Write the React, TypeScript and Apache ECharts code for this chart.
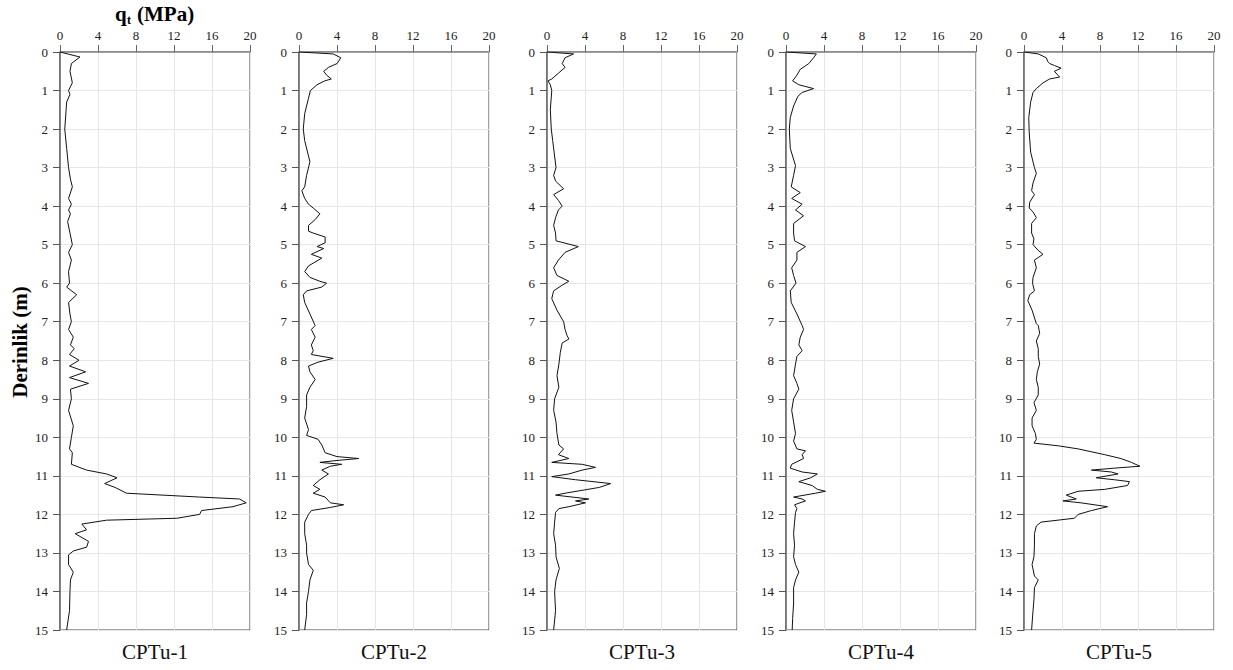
import React, { useEffect, useRef } from "react";
import * as echarts from "echarts";

// Each entry: [depth (m), qt (MPa)]
const cptu1: [number, number][] = [
  [0, 0], [0.13, 2.1], [0.3, 1.2], [0.5, 1.05], [0.8, 1.3], [1.0, 0.9], [1.1, 1.05], [1.3, 0.7], [2.0, 0.5], [2.5, 0.7],
  [3.0, 0.9], [3.3, 1.1], [3.5, 1.3], [3.8, 0.9], [3.95, 1.2], [4.1, 0.9], [4.2, 1.1], [4.4, 0.8], [4.7, 1.05], [5.0, 1.3],
  [5.2, 0.9], [5.4, 1.2], [5.7, 0.9], [6.0, 1.0], [6.1, 0.7], [6.3, 1.75], [6.5, 0.9], [6.8, 1.05], [7.0, 1.2], [7.2, 0.9],
  [7.4, 1.4], [7.6, 1.1], [7.7, 1.5], [7.85, 1.0], [8.0, 2.0], [8.15, 1.0], [8.3, 2.7], [8.45, 1.0], [8.6, 3.0], [8.75, 1.1],
  [9.0, 1.2], [9.3, 0.9], [9.7, 1.4], [10.0, 1.2], [10.3, 1.0], [10.4, 1.3], [10.7, 1.2], [10.85, 2.8], [10.95, 4.9], [11.05, 6.0],
  [11.2, 4.7], [11.3, 5.8], [11.45, 7.0], [11.55, 14.7], [11.6, 18.9], [11.7, 19.6], [11.8, 18.2], [11.9, 14.9], [12.0, 14.7], [12.1, 12.3],
  [12.15, 4.9], [12.25, 2.3], [12.4, 2.8], [12.5, 1.6], [12.7, 3.0], [12.85, 2.8], [12.95, 1.4], [13.05, 0.9], [13.3, 0.9], [13.5, 1.4],
  [13.7, 1.1], [14.0, 1.05], [14.5, 1.0], [15, 0.7],
];

const cptu2: [number, number][] = [
  [0, 0], [0.05, 3.6], [0.15, 4.4], [0.3, 4.0], [0.4, 3.1], [0.5, 2.6], [0.6, 2.9], [0.7, 3.4], [0.75, 2.7], [0.85, 1.9],
  [1.0, 1.2], [1.2, 1.0], [1.6, 0.6], [2.0, 0.45], [2.3, 0.6], [2.7, 1.0], [2.85, 1.15], [3.2, 0.8], [3.5, 0.6], [3.6, 0.3],
  [3.8, 0.6], [3.95, 1.0], [4.05, 1.5], [4.2, 2.2], [4.35, 1.7], [4.5, 1.0], [4.65, 1.0], [4.7, 1.5], [4.8, 2.75], [4.95, 2.75],
  [5.05, 1.9], [5.1, 2.6], [5.25, 1.3], [5.35, 2.4], [5.55, 1.0], [5.7, 0.6], [5.85, 1.15], [5.95, 2.2], [6.0, 2.9], [6.1, 2.4],
  [6.2, 0.8], [6.3, 0.45], [6.5, 0.6], [6.8, 1.15], [7.1, 1.7], [7.2, 1.3], [7.4, 1.7], [7.6, 1.3], [7.75, 1.5], [7.85, 1.3],
  [7.95, 3.6], [8.05, 2.0], [8.15, 1.0], [8.3, 1.15], [8.5, 1.7], [8.7, 1.15], [8.9, 0.8], [9.2, 0.8], [9.5, 0.6], [9.8, 1.0],
  [9.95, 0.8], [10.05, 2.0], [10.2, 2.4], [10.4, 2.75], [10.5, 4.0], [10.55, 6.3], [10.6, 4.0], [10.65, 2.2], [10.7, 4.5], [10.75, 3.3],
  [10.85, 2.4], [10.95, 3.1], [11.1, 2.2], [11.25, 1.5], [11.35, 2.2], [11.45, 1.5], [11.55, 2.75], [11.7, 3.3], [11.75, 4.7], [11.82, 3.3],
  [11.9, 1.3], [12.0, 1.0], [12.2, 0.6], [12.5, 0.6], [12.8, 0.8], [13.0, 0.8], [13.3, 1.0], [13.45, 1.5], [13.7, 1.15], [14.0, 1.0],
  [14.3, 0.8], [14.6, 0.8], [15, 0.6],
];

const cptu3: [number, number][] = [
  [0, 0], [0.05, 2.8], [0.15, 1.9], [0.3, 1.6], [0.4, 1.9], [0.55, 1.2], [0.7, 0.5], [0.75, 0.1], [0.85, 0.35], [1.0, 0.5],
  [1.5, 0.35], [2.0, 0.45], [2.3, 0.6], [2.7, 0.8], [3.0, 0.95], [3.2, 0.7], [3.35, 0.9], [3.55, 1.75], [3.7, 0.7], [3.85, 1.2],
  [4.0, 1.6], [4.1, 1.2], [4.3, 0.9], [4.5, 0.7], [4.7, 0.9], [4.9, 0.95], [5.05, 3.3], [5.2, 1.9], [5.4, 1.2], [5.6, 0.7],
  [5.8, 1.05], [5.95, 2.3], [6.05, 1.6], [6.2, 0.7], [6.4, 0.5], [6.7, 1.05], [7.0, 1.75], [7.2, 1.9], [7.35, 2.1], [7.45, 2.3],
  [7.55, 1.6], [7.8, 1.4], [8.1, 1.25], [8.4, 1.05], [8.7, 1.25], [9.0, 0.8], [9.3, 0.7], [9.6, 0.95], [9.9, 1.05], [10.2, 1.25],
  [10.3, 1.75], [10.45, 1.2], [10.55, 2.3], [10.65, 0.5], [10.7, 3.7], [10.78, 5.1], [10.85, 3.7], [10.95, 2.3], [11.02, 0.5], [11.1, 3.0],
  [11.2, 6.7], [11.3, 5.5], [11.45, 1.9], [11.5, 0.9], [11.6, 4.4], [11.65, 3.0], [11.7, 4.05], [11.8, 2.3], [11.85, 1.25], [11.95, 0.9],
  [12.2, 0.8], [12.5, 0.7], [12.8, 0.9], [13.1, 0.95], [13.4, 1.3], [13.7, 0.95], [14.0, 0.8], [14.5, 0.9], [15, 0.7],
];

const cptu4: [number, number][] = [
  [0, 0], [0.05, 3.2], [0.15, 2.9], [0.3, 2.4], [0.45, 1.5], [0.6, 1.15], [0.75, 0.7], [0.85, 1.35], [0.95, 2.9], [1.05, 1.7],
  [1.15, 1.25], [1.4, 0.8], [1.7, 0.45], [2.0, 0.35], [2.5, 0.45], [2.95, 1.0], [3.2, 0.8], [3.5, 0.55], [3.65, 1.5], [3.8, 0.6],
  [3.95, 1.7], [4.1, 1.0], [4.25, 1.85], [4.45, 0.8], [4.7, 0.8], [4.9, 0.9], [5.05, 2.05], [5.2, 1.15], [5.4, 1.15], [5.6, 0.6],
  [5.8, 0.8], [6.0, 1.05], [6.2, 0.45], [6.5, 0.55], [6.8, 1.15], [7.1, 1.7], [7.2, 1.85], [7.4, 1.5], [7.6, 1.35], [7.75, 1.7],
  [7.9, 1.15], [8.1, 1.0], [8.4, 0.8], [8.6, 1.15], [8.75, 1.35], [9.0, 0.8], [9.3, 0.6], [9.6, 0.8], [9.9, 1.0], [10.1, 0.8],
  [10.3, 1.15], [10.35, 2.05], [10.45, 1.7], [10.55, 1.85], [10.7, 0.6], [10.8, 0.45], [10.9, 1.7], [10.95, 3.3], [11.05, 2.6], [11.15, 1.35],
  [11.25, 2.75], [11.35, 3.3], [11.4, 4.15], [11.45, 3.1], [11.55, 0.8], [11.6, 1.7], [11.65, 2.05], [11.75, 0.9], [11.85, 1.15], [11.95, 1.0],
  [12.2, 0.9], [12.5, 0.8], [12.8, 0.9], [13.1, 0.8], [13.3, 1.0], [13.5, 1.35], [13.7, 1.0], [13.9, 0.8], [14.3, 0.8], [14.7, 0.7],
  [15, 0.65],
];

const cptu5: [number, number][] = [
  [0, 0], [0.05, 1.5], [0.15, 2.35], [0.25, 2.5], [0.3, 2.7], [0.35, 3.2], [0.42, 3.9], [0.5, 3.2], [0.65, 3.75], [0.7, 2.7],
  [0.8, 2.0], [0.95, 1.3], [1.05, 0.95], [1.3, 0.7], [1.7, 0.5], [2.1, 0.55], [2.6, 0.7], [3.0, 1.1], [3.15, 1.3], [3.4, 0.95],
  [3.6, 0.8], [3.7, 1.1], [3.9, 0.6], [4.05, 0.55], [4.15, 0.95], [4.3, 1.3], [4.45, 0.8], [4.7, 0.8], [4.85, 1.05], [5.0, 0.95],
  [5.15, 1.5], [5.25, 2.0], [5.4, 1.1], [5.6, 1.3], [5.85, 0.95], [6.0, 0.9], [6.2, 1.1], [6.3, 0.6], [6.45, 0.4], [6.7, 0.85],
  [7.05, 1.3], [7.1, 1.5], [7.3, 1.65], [7.5, 1.3], [7.7, 1.5], [7.9, 1.5], [8.1, 1.65], [8.3, 1.4], [8.5, 1.3], [8.7, 1.5],
  [8.9, 1.5], [9.1, 1.05], [9.3, 1.3], [9.5, 0.85], [9.7, 0.85], [9.9, 1.2], [10.05, 1.3], [10.15, 1.05], [10.22, 3.6], [10.3, 5.7],
  [10.45, 8.5], [10.55, 10.2], [10.65, 11.3], [10.75, 12.2], [10.8, 9.5], [10.85, 7.1], [10.9, 9.2], [10.95, 9.9], [11.05, 7.6], [11.1, 9.5],
  [11.15, 11.1], [11.25, 10.9], [11.35, 8.5], [11.4, 5.7], [11.5, 4.45], [11.6, 5.5], [11.65, 4.1], [11.7, 6.0], [11.8, 8.8], [11.9, 7.1],
  [12.0, 5.7], [12.1, 5.3], [12.2, 1.8], [12.3, 1.3], [12.5, 1.1], [12.8, 1.1], [13.1, 1.05], [13.3, 0.85], [13.6, 1.1], [13.7, 1.5],
  [13.9, 1.1], [14.2, 1.05], [14.5, 0.95], [15, 0.8],
];

const panelNames = ["CPTu-1", "CPTu-2", "CPTu-3", "CPTu-4", "CPTu-5"];
const panelData = [cptu1, cptu2, cptu3, cptu4, cptu5];
const qtRange = [0, 20];
const qtStep = 4;
const depthRange = [0, 15];
const depthStep = 1;
const yAxisTitle = "Derinlik (m)";

const FONT = "'Liberation Serif', 'Times New Roman', serif";
const gridLefts = [60, 299, 547, 786, 1024];
const GRID_TOP = 52;
const GRID_W = 190;
const GRID_H = 578;

export default function App() {
  const ref = useRef<HTMLDivElement>(null);

  useEffect(() => {
    if (!ref.current) return;
    const chart = echarts.init(ref.current, undefined, { renderer: "svg" });

    const grids = gridLefts.map((left) => ({
      left,
      top: GRID_TOP,
      width: GRID_W,
      height: GRID_H,
      show: true,
      borderColor: "#444",
      borderWidth: 1,
      backgroundColor: "transparent",
    }));

    const xAxes = gridLefts.map((_, i) => ({
      gridIndex: i,
      type: "value",
      position: "top",
      min: qtRange[0],
      max: qtRange[1],
      interval: qtStep,
      axisLine: { show: true, onZero: false, lineStyle: { color: "#888", width: 1.5 } },
      axisTick: { show: true, length: 7, lineStyle: { color: "#666" } },
      axisLabel: { margin: 10, fontFamily: FONT, fontSize: 13, color: "#222" },
      splitLine: { show: true, lineStyle: { color: "#e6e6e6", width: 1 } },
    }));

    const yAxes = gridLefts.map((_, i) => ({
      gridIndex: i,
      type: "value",
      inverse: true,
      min: depthRange[0],
      max: depthRange[1],
      interval: depthStep,
      axisLine: { show: true, onZero: false, lineStyle: { color: "#666", width: 1.5 } },
      axisTick: { show: true, length: 7, lineStyle: { color: "#555" } },
      axisLabel: { margin: 12, fontFamily: FONT, fontSize: 13, color: "#222" },
      splitLine: { show: true, lineStyle: { color: "#e6e6e6", width: 1 } },
    }));

    const series = panelData.map((pts, i) => ({
      type: "line",
      name: panelNames[i],
      xAxisIndex: i,
      yAxisIndex: i,
      data: pts.map(([d, q]) => [q, d]),
      showSymbol: false,
      symbol: "none",
      lineStyle: { color: "#111", width: 1 },
      clip: true,
    }));

    const graphic: any[] = [
      {
        type: "text",
        x: 115,
        y: 14,
        style: { text: "q", font: `bold 21px ${FONT}`, fill: "#000", verticalAlign: "middle" },
      },
      {
        type: "text",
        x: 127,
        y: 20,
        style: { text: "t", font: `bold 12px ${FONT}`, fill: "#000", verticalAlign: "middle" },
      },
      {
        type: "text",
        x: 137,
        y: 14,
        style: { text: "(MPa)", font: `bold 21px ${FONT}`, fill: "#000", verticalAlign: "middle" },
      },
      {
        type: "text",
        x: 20,
        y: 342,
        rotation: Math.PI / 2,
        style: {
          text: yAxisTitle,
          font: `bold 21px ${FONT}`,
          fill: "#000",
          align: "center",
          verticalAlign: "middle",
        },
      },
      ...panelNames.map((name, i) => ({
        type: "text",
        x: gridLefts[i] + GRID_W / 2,
        y: 652,
        style: {
          text: name,
          font: `21px ${FONT}`,
          fill: "#111",
          align: "center",
          verticalAlign: "middle",
        },
      })),
    ];

    chart.setOption({
      animation: false,
      backgroundColor: "#fff",
      grid: grids,
      xAxis: xAxes,
      yAxis: yAxes,
      series,
      graphic,
    } as any);

    return () => chart.dispose();
  }, []);

  return (
    <div
      ref={ref}
      style={{ position: "fixed", left: 0, top: 0, width: 1233, height: 670, background: "#fff" }}
    />
  );
}
